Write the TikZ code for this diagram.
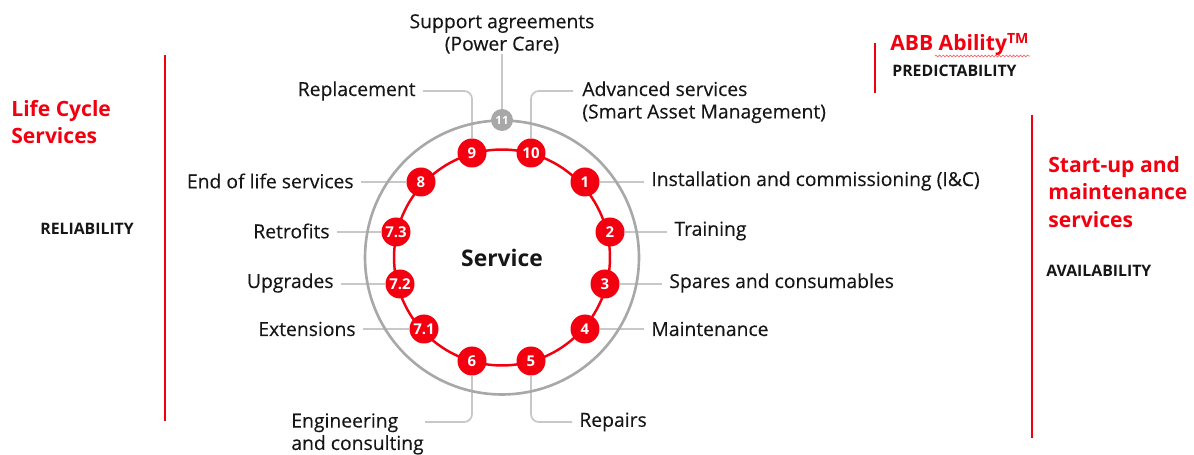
\documentclass[tikz,border=0pt]{standalone}
\usepackage{fontspec}
\setmainfont{Open Sans}
\newfontfamily\svclabelfont[FakeBold=0.25]{Open Sans}
\usetikzlibrary{positioning,backgrounds,decorations.pathmorphing}

\definecolor{abbred}{RGB}{242,0,15}
\definecolor{ringgrey}{RGB}{168,168,168}
\definecolor{linkgrey}{RGB}{200,200,200}
\definecolor{labelblack}{RGB}{22,22,22}

\tikzset{
    svc badge/.style={
        circle,
        minimum size=0.58cm,
        inner sep=0pt,
        fill=abbred,
        draw=none,
        text=white,
        font=\bfseries\fontsize{8.5}{9}\selectfont
    },
    svc grey badge/.style={svc badge, minimum size=0.44cm, fill=ringgrey,
        font=\bfseries\fontsize{6.5}{7}\selectfont},
    svc label/.style={inner sep=4pt, text=labelblack, font=\svclabelfont\fontsize{11}{12.75}\selectfont},
    svc block/.style={svc label, inner sep=0pt, align=left},
    svc title/.style={inner sep=0pt, align=left, text=abbred,
        font=\bfseries\fontsize{12}{15.6}\selectfont},
    svc caps/.style={inner sep=0pt, text=labelblack, font=\bfseries\fontsize{9}{11}\selectfont},
    svc link/.style={draw=linkgrey, line width=1pt, rounded corners=4.5pt},
    svc bar/.style={draw=abbred, line width=1.6pt}
}

\begin{document}
\begin{tikzpicture}[x=0.02cm, y=-0.02cm]
\useasboundingbox (0,0) rectangle (1194,455);

% centre and the two rings
\coordinate (ctr) at (502,257.5);
\draw[ringgrey, line width=1.5pt] (ctr) circle[radius=2.74cm];
\draw[abbred, line width=1.4pt] (ctr) circle[radius=2.16cm];
\node[font=\bfseries\fontsize{13}{15}\selectfont, text=labelblack] (service) at (ctr) {Service};

% badges, clockwise from the top
\node[svc grey badge] (b11) at (502,120) {11};
\node[svc badge] (b10) at (531,153) {10};
\node[svc badge] (b1) at (585,182) {1};
\node[svc badge] (b2) at (610,232) {2};
\node[svc badge] (b3) at (605,284) {3};
\node[svc badge] (b4) at (585,329) {4};
\node[svc badge] (b5) at (531,361) {5};
\node[svc badge] (b6) at (472,361) {6};
\node[svc badge] (b71) at (424,329) {7.1};
\node[svc badge] (b72) at (400,284) {7.2};
\node[svc badge] (b73) at (396,232) {7.3};
\node[svc badge] (b8) at (421,182) {8};
\node[svc badge] (b9) at (472,153) {9};

% labels on the right
\node[svc label, anchor=west] (l1) at (644,181) {Installation and commissioning (I\&C)};
\node[svc label, anchor=west] (l2) at (667,231) {Training};
\node[svc label, anchor=west] (l3) at (662,283) {Spares and consumables};
\node[svc label, anchor=west] (l4) at (644,329) {Maintenance};
\node[svc label, anchor=west] (l5) at (572,422) {Repairs};
% labels on the left
\node[svc label, anchor=east] (l8) at (361,181) {End of life services};
\node[svc label, anchor=east] (l73) at (337,231) {Retrofits};
\node[svc label, anchor=east] (l72) at (341,283) {Upgrades};
\node[svc label, anchor=east] (l71) at (363,329) {Extensions};
\node[svc label, anchor=east] (l9) at (423,91) {Replacement};
% two-line labels
\node[svc block, anchor=north west] (l10) at (582,81) {Advanced services\\(Smart Asset Management)};
\node[svc block, anchor=north west] (l6) at (291,413) {Engineering\\and consulting};
\node[svc block, align=center, anchor=south] (l11) at (502,54) {Support agreements\\(Power Care)};
\coordinate (c10) at (573,91);
\coordinate (c6) at (425,422);

% connectors behind the badges
\begin{scope}[on background layer]
    \draw[svc link] (b11) -- (l11);
    \draw[svc link] (b10) |- (c10);
    \draw[svc link] (b9) |- (l9);
    \draw[svc link] (b1) -- (b1 -| l1.west);
    \draw[svc link] (b2) -- (b2 -| l2.west);
    \draw[svc link] (b3) -- (b3 -| l3.west);
    \draw[svc link] (b4) -- (l4);
    \draw[svc link] (b5) |- (l5);
    \draw[svc link] (b6) |- (c6);
    \draw[svc link] (b71) -- (l71);
    \draw[svc link] (b72) -- (b72 -| l72.east);
    \draw[svc link] (b73) -- (b73 -| l73.east);
    \draw[svc link] (b8) -- (b8 -| l8.east);
\end{scope}

% side groups
\draw[svc bar] (165,55) -- (165,421);
\node[svc title, anchor=north west] (lcs) at (11,100) {Life Cycle\\Services};
\node[svc caps, anchor=base west] (rel) at (40,235) {RELIABILITY};

\draw[svc bar] (875,43) -- (875,93);
\node[svc title, anchor=base west] (abb) at (890,51) {ABB Ability\textsuperscript{TM}};
\draw[abbred!60, line width=0.4pt, decorate,
      decoration={snake, amplitude=0.5pt, segment length=2pt}] (935,56) -- (1030,56);
\node[svc caps, anchor=base west] (pred) at (892,77) {PREDICTABILITY};

\draw[svc bar] (1032,115) -- (1032,438);
\node[svc title, anchor=north west] (sum) at (1048,156) {Start-up and\\maintenance\\services};
\node[svc caps, anchor=base west] (avail) at (1046,277) {AVAILABILITY};

\end{tikzpicture}
\end{document}
